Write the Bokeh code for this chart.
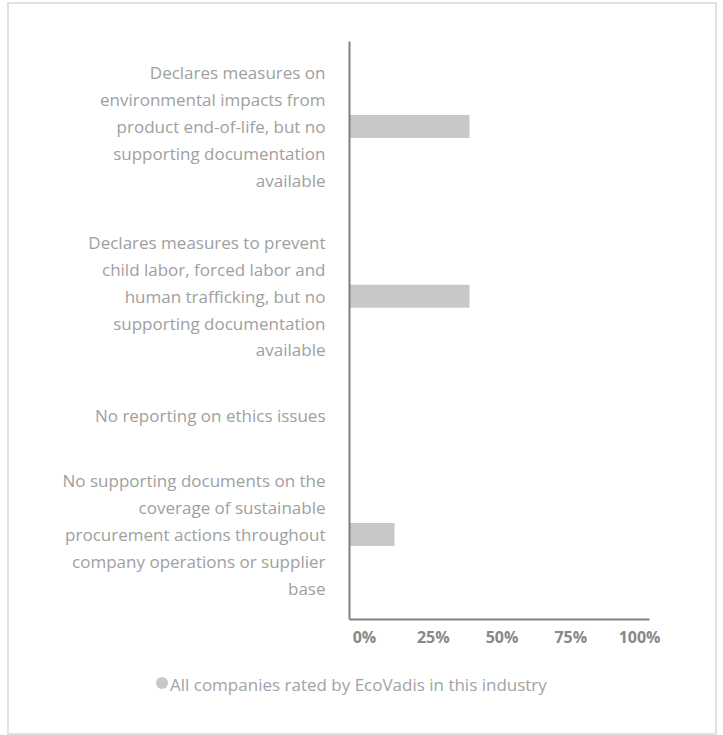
from bokeh.plotting import figure
from bokeh.layouts import column
from bokeh.models import (Range1d, FixedTicker, LinearAxis, ColumnDataSource, Div)
from bokeh.embed import file_html
from bokeh.resources import INLINE

# ---------------- data ----------------
categories = [
    "Declares measures on\nenvironmental impacts from\nproduct end-of-life, but no\nsupporting documentation\navailable",
    "Declares measures to prevent\nchild labor, forced labor and\nhuman trafficking, but no\nsupporting documentation\navailable",
    "No reporting on ethics issues",
    "No supporting documents on the\ncoverage of sustainable\nprocurement actions throughout\ncompany operations or supplier\nbase",
]
values = [40, 40, 0, 15]            # percent of companies
tick_values = [0, 25, 50, 75, 100]
tick_labels = ["0%", "25%", "50%", "75%", "100%"]
series_name = "All companies rated by EcoVadis in this industry"
series_color = "#c8c8c8"

# ---------------- layout helpers ----------------
W = 706                              # inside the light border
H_MAIN, H_LEG = 660, 69
FRAME_L, FRAME_R, FRAME_T, FRAME_B = 340, 640, 37, 615
LINE_UNIT = 100      # one text line in y units
ROW_PAD = 172        # extra space per row in y units

n_lines = [c.count("\n") + 1 for c in categories]
row_h = [n * LINE_UNIT + ROW_PAD for n in n_lines]
centers = []
acc = 0
for h in row_h:
    centers.append(acc + h // 2)
    acc += h
total = acc
px_per_unit = (FRAME_B - FRAME_T) / total
bar_h = 23 / px_per_unit

src = ColumnDataSource(dict(y=centers, right=values, left=[0] * len(values)))

p = figure(width=W, height=H_MAIN, output_backend="svg", toolbar_location=None,
           x_range=Range1d(0, 100), y_range=Range1d(total, 0),
           x_axis_location=None,
           min_border_left=FRAME_L, min_border_right=W - FRAME_R,
           min_border_top=FRAME_T, min_border_bottom=H_MAIN - FRAME_B)
p.outline_line_color = None
p.background_fill_color = "white"
p.border_fill_color = "white"
p.xgrid.visible = False
p.ygrid.visible = False

bars = p.hbar(y="y", left="left", right="right", height=bar_h, source=src,
              fill_color=series_color, line_color=None)

# y axis with multi-line category labels
ya = p.yaxis[0]
ya.ticker = FixedTicker(ticks=centers)
ya.major_label_overrides = {c: lab for c, lab in zip(centers, categories)}
ya.axis_line_color = "#808080"
ya.axis_line_width = 2
ya.major_tick_line_color = None
ya.minor_tick_line_color = None
ya.major_label_standoff = 18
ya.major_label_text_font = "Open Sans"
ya.major_label_text_font_size = "17px"
ya.major_label_text_color = "#a0a0a0"
ya.major_label_text_line_height = 1.17

# x axis (percent labels)
p.extra_x_ranges = {"pct": Range1d(-5.45, 103.6)}
xa = LinearAxis(x_range_name="pct")
xa.ticker = FixedTicker(ticks=tick_values)
xa.major_label_overrides = {v: lab for v, lab in zip(tick_values, tick_labels)}
xa.axis_line_color = "#808080"
xa.axis_line_width = 2
xa.major_tick_line_color = None
xa.minor_tick_line_color = None
xa.major_label_standoff = 0
xa.major_label_text_font = "Open Sans"
xa.major_label_text_font_style = "bold"
xa.major_label_text_font_size = "16px"
xa.major_label_text_color = "#888888"
p.add_layout(xa, "below")

# legend strip below the chart
leg_html = (
    '<div style="position:relative;width:%dpx;height:%dpx;'
    'font-family:\'Open Sans\';font-size:17px;color:#a3a3a3;">'
    '<span style="position:absolute;left:147px;top:13px;width:12px;height:12px;'
    'border-radius:50%%;background:%s;"></span>'
    '<span style="position:absolute;left:161px;top:8px;line-height:26px;'
    'white-space:nowrap;">%s</span></div>'
) % (W, H_LEG, series_color, series_name)
leg = Div(text=leg_html, width=W, height=H_LEG, margin=0)

layout = column(p, leg, spacing=0)
layout.margin = (2, 0, 0, 7)
layout.styles = {"border": "2px solid #e2e2e2"}

open("out.html", "w").write(file_html(layout, INLINE))
